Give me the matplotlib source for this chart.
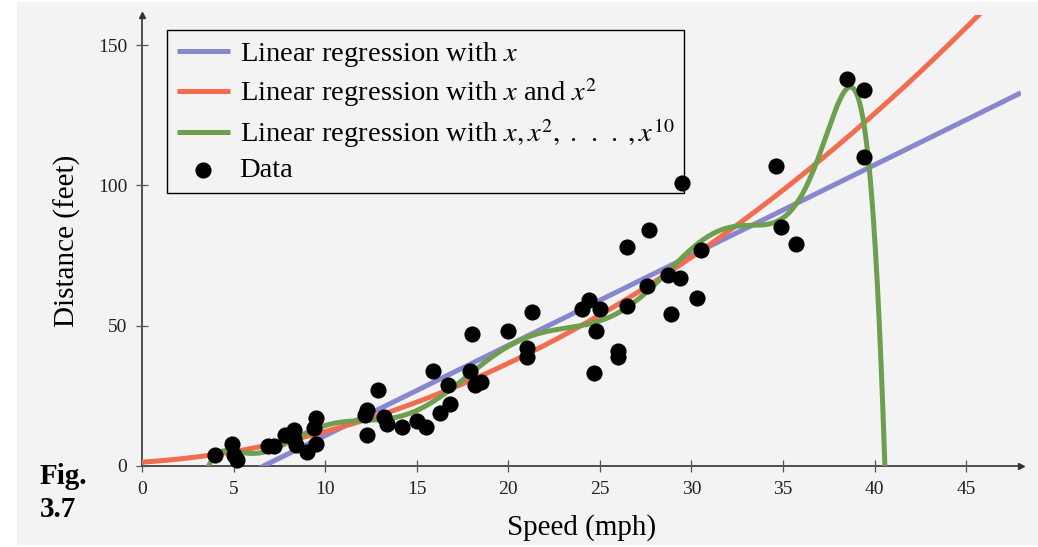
import numpy as np
import matplotlib
matplotlib.use("Agg")
import matplotlib.pyplot as plt
from matplotlib.patches import Rectangle
from numpy.polynomial import Polynomial

plt.rcParams["font.family"] = ["Liberation Serif", "DejaVu Serif"]
plt.rcParams["mathtext.fontset"] = "stix"

# Stopping distance data
speed = [4.0, 4.9, 5.0, 5.2, 6.9, 7.2, 7.8, 8.3, 8.3, 8.4, 9.0, 9.5, 9.4, 9.5,
         12.3, 12.2, 12.9, 12.3, 13.2, 13.4, 14.2, 15.0, 15.5, 15.9, 16.3, 16.8,
         16.7, 18.0, 17.9, 18.2, 18.5,
         20.0, 21.3, 21.0, 21.0, 24.4, 24.0, 25.0, 24.8, 24.7, 26.0, 26.0, 26.5,
         29.5, 27.7, 26.5, 30.5, 28.7, 29.4, 27.6, 30.3, 28.9,
         38.5, 39.4, 34.6, 39.4, 34.9, 35.7]
distance = [4, 8, 4, 2, 7, 7, 11, 13, 9.5, 7.5, 5, 17, 13.5, 8,
            20, 18, 27, 11, 17.6, 15, 14, 16, 14, 34, 19, 22,
            29, 47, 34, 29, 30,
            48, 55, 42, 39, 59, 56, 56, 48, 33, 41, 39, 57,
            101, 84, 78, 77, 68, 67, 64, 60, 54,
            138, 134, 107, 110, 85, 79]

x_ticks = [0, 5, 10, 15, 20, 25, 30, 35, 40, 45]
y_ticks = [0, 50, 100, 150]

series_labels = [r"Linear regression with $x$",
                 r"Linear regression with $x$ and $x^2$",
                 r"Linear regression with $x,x^2,\;.\;\,.\;\,.\;,x^{10}$"]
series_degrees = [1, 2, 10]
series_colors = ["#8787cf", "#f26d50", "#6d9f4f"]

W, H = 1038, 547
fig = plt.figure(figsize=(W / 100, H / 100), dpi=100, facecolor="white")
panel_color = "#f3f3f3"
fig.patches.append(Rectangle((17 / W, 2 / H), 1 - 17 / W, (545 - 2) / H,
                             transform=fig.transFigure, facecolor=panel_color,
                             edgecolor="none", zorder=-10))

ax = fig.add_axes([142 / W, (H - 466) / H, (1021 - 142) / W, (466 - 15) / H])
ax.set_facecolor(panel_color)
ax.patch.set_alpha(0)

xmax, ymax = 48.0, 160.7
ax.set_xlim(0, xmax)
ax.set_ylim(0, ymax)

xs = np.array(speed)
ys = np.array(distance)
grid = np.linspace(0, xmax, 2000)
handles = []
for deg, col, lab in zip(series_degrees, series_colors, series_labels):
    p = Polynomial.fit(xs, ys, deg)
    h, = ax.plot(grid, p(grid), color=col, lw=3.6, label=lab, zorder=2,
                 solid_capstyle="butt")
    handles.append(h)

# data points sit above the legend frame
sc = ax.scatter(xs, ys, s=135, color="black", zorder=6, label="Data",
                clip_on=False, linewidths=0)
handles.append(sc)

axis_color = "#333333"
for side in ["top", "right"]:
    ax.spines[side].set_visible(False)
for side in ["left", "bottom"]:
    ax.spines[side].set_color(axis_color)
    ax.spines[side].set_linewidth(1.2)
    ax.spines[side].set_zorder(1)

ax.plot(1, 0, marker=">", color=axis_color, markersize=5,
        transform=ax.transAxes, clip_on=False)
ax.plot(0, 1, marker="^", color=axis_color, markersize=5,
        transform=ax.transAxes, clip_on=False)

ax.set_xticks(x_ticks)
ax.set_yticks(y_ticks)
ax.tick_params(direction="inout", length=9, width=0.9, color="#555555",
               labelsize=14, labelcolor="#222222", pad=6)

ax.set_xlabel("Speed (mph)", fontsize=21, labelpad=12)
ax.set_ylabel("Distance (feet)", fontsize=21, labelpad=12)

leg = ax.legend(handles=handles, loc="upper left",
                bbox_to_anchor=(0.0284, 0.967), borderaxespad=0,
                fontsize=20.5, frameon=True, fancybox=False,
                handlelength=1.85, handletextpad=0.35, labelspacing=0.26,
                borderpad=0.35, markerscale=1.0, scatterpoints=1)
leg.set_zorder(5)
leg.get_frame().set_edgecolor("black")
leg.get_frame().set_linewidth(1.0)
leg.get_frame().set_facecolor(panel_color)
leg.get_frame().set_alpha(1)

fig.text(40 / W, 1 - 493 / H, "Fig.\n3.7", fontsize=21, fontweight="bold",
         va="center", ha="left", linespacing=1.3)

fig.savefig("out.png", dpi=100, facecolor="white")
